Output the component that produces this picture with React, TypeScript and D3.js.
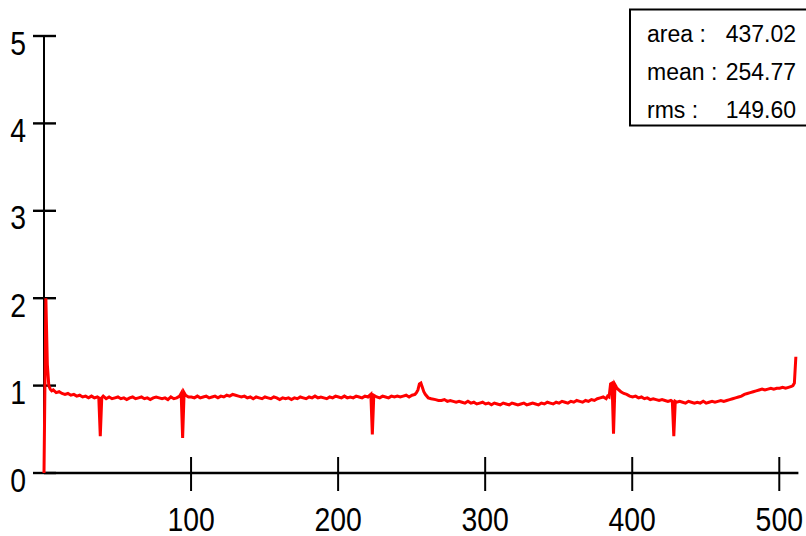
import React from "react";
import * as d3 from "d3";

// Histogram contents: bin index and bin content
const bins: number[] = [
  0, 1, 2, 3, 4, 5, 6, 8, 10, 12, 14, 16, 18, 20, 22, 24, 26, 28, 30, 32, 34, 36, 37, 38, 39, 40, 42, 44, 46, 48, 50, 52, 54, 56, 58, 60, 62, 64, 66, 68, 70, 72, 74, 76, 78, 80, 82, 84, 86, 88, 90, 92, 93, 94, 95, 96, 98,
  100, 102, 104, 106, 108, 110, 112, 114, 116, 118, 120, 122, 124, 126, 128, 130, 132, 134, 136, 138, 140, 142, 144, 146, 148, 150, 152, 154, 156, 158, 160, 162, 164, 166, 168, 170, 172, 174, 176, 178, 180, 182, 184, 186, 188, 190, 192, 194, 196, 198,
  200, 202, 204, 206, 208, 210, 212, 214, 216, 218, 220, 222, 223, 224, 226, 228, 230, 232, 234, 236, 238, 240, 242, 244, 246, 248, 250, 252, 253, 254, 255, 256, 257, 258, 259, 261, 263, 266, 268, 270, 272, 274, 276, 278,
  280, 282, 284, 286, 288, 290, 292, 294, 296, 298, 300, 302, 304, 306, 308, 310, 312, 314, 316, 318, 320, 322, 324, 326, 328, 330, 332, 334, 336, 338, 340, 342, 344, 346, 348, 350, 352, 354, 356, 358, 360, 362, 364, 366, 368, 370, 372, 374, 376, 378,
  380, 382, 383, 384, 385, 386, 387, 388, 389, 390, 392, 394, 396, 398, 400, 402, 404, 406, 408, 410, 412, 414, 416, 418, 420, 422, 424, 426, 427, 428, 429, 430, 432, 434, 436, 438, 440, 442, 444, 446, 448, 450, 452, 454, 456, 458,
  460, 462, 464, 466, 468, 470, 472, 474, 476, 478, 480, 482, 484, 486, 488, 490, 492, 494, 496, 498, 500, 502, 504, 506, 508, 509, 510, 511,
];
const counts: number[] = [
  0, 2.0, 1.24, 1.0, 0.96, 0.94, 0.95, 0.92, 0.93, 0.91, 0.9, 0.91, 0.89, 0.9, 0.88, 0.89, 0.87, 0.88, 0.86, 0.88, 0.86, 0.87, 0.86, 0.42, 0.86, 0.88, 0.85, 0.87, 0.85, 0.86, 0.87, 0.85, 0.86, 0.84, 0.86, 0.87, 0.85, 0.86, 0.87, 0.85, 0.86, 0.84, 0.86, 0.87, 0.86, 0.85, 0.86, 0.84, 0.87, 0.85, 0.86, 0.88, 0.91, 0.4, 0.92, 0.89, 0.87,
  0.87, 0.86, 0.88, 0.86, 0.87, 0.88, 0.86, 0.87, 0.88, 0.86, 0.88, 0.87, 0.89, 0.88, 0.9, 0.89, 0.88, 0.87, 0.88, 0.86, 0.87, 0.85, 0.87, 0.86, 0.85, 0.87, 0.86, 0.85, 0.87, 0.86, 0.84, 0.86, 0.85, 0.86, 0.84, 0.86, 0.85, 0.87, 0.86, 0.85, 0.87, 0.86, 0.88, 0.86, 0.87, 0.86, 0.85, 0.87, 0.86, 0.88,
  0.87, 0.86, 0.88, 0.86, 0.87, 0.86, 0.88, 0.87, 0.86, 0.88, 0.87, 0.9, 0.44, 0.89, 0.87, 0.86, 0.88, 0.87, 0.86, 0.88, 0.87, 0.88, 0.87, 0.88, 0.89, 0.87, 0.89, 0.9, 0.92, 0.95, 1.02, 1.03, 0.98, 0.93, 0.9, 0.86, 0.85, 0.84, 0.83, 0.83, 0.84, 0.82, 0.83, 0.82,
  0.81, 0.82, 0.81, 0.8, 0.82, 0.8, 0.81, 0.79, 0.8, 0.81, 0.79, 0.8, 0.78, 0.8, 0.79, 0.78, 0.8, 0.79, 0.78, 0.8, 0.79, 0.78, 0.79, 0.8, 0.78, 0.79, 0.8, 0.79, 0.78, 0.8, 0.79, 0.81, 0.8, 0.79, 0.81, 0.8, 0.82, 0.81, 0.8, 0.82, 0.81, 0.83, 0.82, 0.81, 0.83, 0.82, 0.84, 0.83, 0.85, 0.86,
  0.87, 0.85, 0.88, 0.87, 1.02, 1.03, 0.45, 1.01, 0.98, 0.96, 0.93, 0.91, 0.9, 0.88, 0.87, 0.88, 0.86, 0.87, 0.85, 0.86, 0.84, 0.85, 0.84, 0.83, 0.84, 0.83, 0.82, 0.83, 0.82, 0.42, 0.82, 0.81, 0.82, 0.81, 0.8, 0.82, 0.81, 0.8, 0.81, 0.8, 0.82, 0.8, 0.81, 0.82, 0.81, 0.82,
  0.83, 0.82, 0.83, 0.84, 0.85, 0.86, 0.87, 0.88, 0.9, 0.91, 0.92, 0.93, 0.94, 0.95, 0.96, 0.95, 0.96, 0.97, 0.96, 0.97, 0.97, 0.98, 0.97, 0.98, 0.99, 1.0, 1.03, 1.33,
];

const xTicks: number[] = [100, 200, 300, 400, 500];
const yTicks: number[] = [0, 1, 2, 3, 4, 5];

const statLabels: string[] = ["area :", "mean :", "rms :"];
const statValues: string[] = ["437.02", "254.77", "149.60"];

const W = 806;
const H = 536;

export default function App() {
  const x = d3.scaleLinear().domain([0, 513]).range([44, 798.4]);
  const y = d3.scaleLinear().domain([0, 5]).range([473, 36]);

  const pts: [number, number][] = bins.map((b, i) => [b, counts[i]]);
  const line = d3
    .line<[number, number]>()
    .x((d) => x(d[0]) + (d[0] === 0 ? 0 : 0.4))
    .y((d) => y(d[1]));

  const axisFont = "'Liberation Sans', Arial, sans-serif";
  const statFont = "'Liberation Sans', Arial, sans-serif";

  return (
    <svg
      width={W}
      height={H}
      style={{ position: "absolute", left: 0, top: 0, background: "#fff" }}
    >
      <rect x={0} y={0} width={W} height={H} fill="#fff" />
      {/* y axis */}
      <line x1={x(0)} x2={x(0)} y1={y(5)} y2={y(0)} stroke="#000" strokeWidth={2} />
      {yTicks.map((t) => (
        <g key={"y" + t}>
          <line x1={33} x2={56} y1={y(t)} y2={y(t)} stroke="#000" strokeWidth={2.4} />
          <text
            transform={`translate(26,${y(t) + 18.5}) scale(0.86,1)`}
            textAnchor="end"
            fontFamily={axisFont}
            fontSize={33}
            fill="#000"
          >
            {t}
          </text>
        </g>
      ))}
      {/* x axis */}
      <line x1={x(0)} x2={x(513)} y1={y(0)} y2={y(0)} stroke="#000" strokeWidth={2.4} />
      {xTicks.map((t) => (
        <g key={"x" + t}>
          <line x1={x(t)} x2={x(t)} y1={457} y2={491} stroke="#000" strokeWidth={2} />
          <text
            transform={`translate(${x(t)},531) scale(0.86,1)`}
            textAnchor="middle"
            fontFamily={axisFont}
            fontSize={33}
            fill="#000"
          >
            {t}
          </text>
        </g>
      ))}
      {/* data line */}
      <path
        d={line(pts) || ""}
        fill="none"
        stroke="#ff0000"
        strokeWidth={3}
        strokeLinejoin="miter"
      />
      {/* stats box */}
      <rect x={630} y={9.5} width={190} height={116} fill="#fff" stroke="#000" strokeWidth={2} />
      {statLabels.map((s, i) => (
        <g key={s}>
          <text x={647} y={41.5 + i * 38.3} fontFamily={statFont} fontSize={23} fill="#000">
            {s}
          </text>
          <text
            x={796}
            y={41.5 + i * 38.3}
            textAnchor="end"
            fontFamily={statFont}
            fontSize={23}
            fill="#000"
          >
            {statValues[i]}
          </text>
        </g>
      ))}
    </svg>
  );
}
